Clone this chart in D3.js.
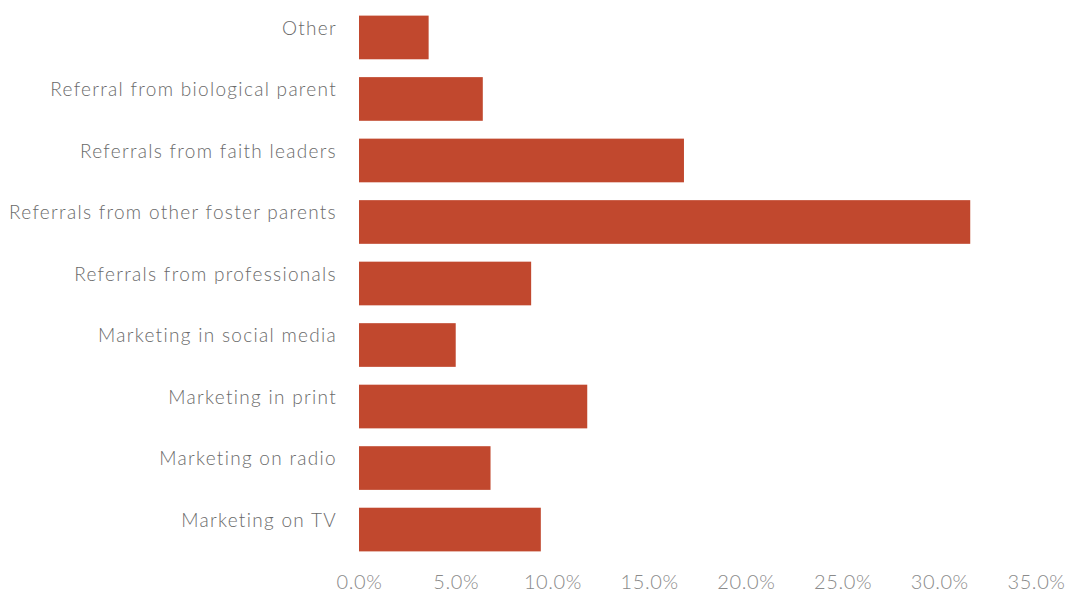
<!DOCTYPE html>
<html>
<head>
<meta charset="utf-8">
<script src="https://cdn.jsdelivr.net/npm/d3@7"></script>
<style>
  html, body { margin: 0; padding: 0; background: #fff; }
  svg text { font-family: Lato, "Open Sans", sans-serif; font-weight: 300; }
</style>
</head>
<body>
<svg id="chart" width="1069" height="593"></svg>
<script>
// Recruitment sources, listed top to bottom
const categories = [
  "Other",
  "Referral from biological parent",
  "Referrals from faith leaders",
  "Referrals from other foster parents",
  "Referrals from professionals",
  "Marketing in social media",
  "Marketing in print",
  "Marketing on radio",
  "Marketing on TV"
];
// Share of respondents (%)
const values = [3.6, 6.4, 16.8, 31.6, 8.9, 5.0, 11.8, 6.8, 9.4];
const xTicks = [0, 5, 10, 15, 20, 25, 30, 35];

(function draw() {
  const svg = d3.select("#chart");
  const plotLeft = 359, plotRight = 1036, plotTop = 7, plotBottom = 560;

  const x = d3.scaleLinear().domain([0, 35]).range([plotLeft, plotRight]);
  const y = d3.scaleBand().domain(categories).range([plotTop, plotBottom])
    .paddingInner(0.29).paddingOuter(0.14);

  svg.append("g")
    .selectAll("rect")
    .data(categories)
    .join("rect")
    .attr("x", x(0))
    .attr("y", d => y(d))
    .attr("width", (d, i) => x(values[i]) - x(0))
    .attr("height", y.bandwidth())
    .attr("fill", "#c1482e");

  // Category axis (labels only, sitting slightly above each bar's middle)
  const yAxis = svg.append("g")
    .attr("transform", `translate(${plotLeft},0)`)
    .call(d3.axisLeft(y).tickSize(0).tickPadding(22));
  yAxis.select(".domain").remove();
  yAxis.selectAll("text")
    .attr("y", -9)
    .attr("font-size", 19)
    .attr("fill", "#6a6a6a")
    .style("letter-spacing", "1.3px")
    .style("font-family", "Lato, 'Open Sans', sans-serif")
    .style("font-weight", 300);

  // Value axis (labels only)
  const xAxis = svg.append("g")
    .attr("transform", `translate(0,${plotBottom})`)
    .call(d3.axisBottom(x).tickValues(xTicks).tickSize(0).tickPadding(15)
      .tickFormat(d => d.toFixed(1) + "%"));
  xAxis.select(".domain").remove();
  xAxis.selectAll("text")
    .attr("font-size", 20)
    .attr("fill", "#8a8a8a")
    .style("letter-spacing", "0.6px")
    .style("font-family", "Lato, 'Open Sans', sans-serif")
    .style("font-weight", 300);
})();
</script>
</body>
</html>
